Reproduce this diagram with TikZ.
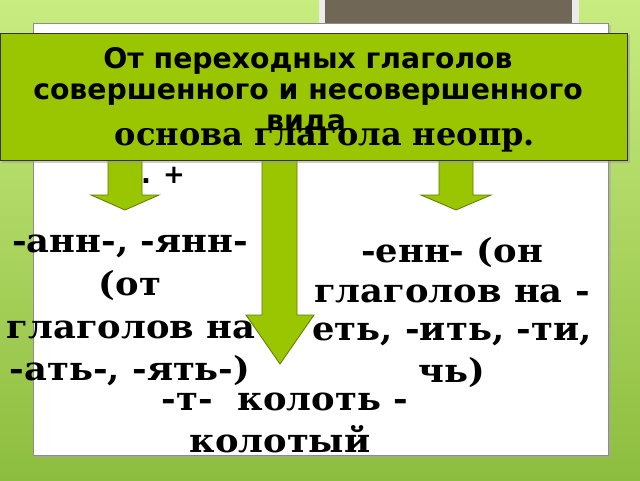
\documentclass[tikz,border=0pt]{standalone}
\usepackage{fontspec}
\newfontfamily\hsans{DejaVu Sans}
\newfontfamily\hserif{DejaVu Serif}
\newfontfamily\hserifwide[FakeStretch=1.07]{DejaVu Serif}
\definecolor{bgtop}{HTML}{C8EC80}
\definecolor{bgbot}{HTML}{8DBD3E}
\definecolor{lime}{HTML}{99C600}
\definecolor{limeedge}{HTML}{5E7A00}
\definecolor{greybox}{HTML}{716757}
\tikzset{
  arrowshape/.style={fill=lime,draw=limeedge,line width=0.8pt},
  bodytxt/.style={font=\hserifwide\bfseries\fontsize{33}{33}\selectfont,anchor=base,inner sep=0pt},
  titletxt/.style={font=\hsans\bfseries\fontsize{28.3}{28.3}\selectfont,anchor=base,inner sep=0pt},
}
\begin{document}
\begin{tikzpicture}[x=1pt,y=-1pt]
\useasboundingbox (0,0) rectangle (640,480);
% background
\shade[top color=bgtop,bottom color=bgbot] (0,0) rectangle (640,480);
% grey box
\fill[white!92!black] (319,-5) rectangle (579,60);
\fill[greybox] (325,-5) rectangle (572,60);
% white panel with shadow
\fill[black!35,opacity=0.5] (35,25) rectangle (611,458);
\draw[fill=white,draw=black!45,line width=0.6pt] (33,23) rectangle (608,455);
% hidden text fragment
\node[font=\hsans\bfseries\fontsize{26}{26}\selectfont,anchor=base west,inner sep=0pt] (frag) at (141,183) {. +};
% side arrows
\draw[arrowshape] (108,150) -- (142,150) -- (142,195) -- (159,195) -- (125,210) -- (91,195) -- (108,195) -- cycle;
\draw[arrowshape] (439,150) -- (473,150) -- (473,195) -- (491,195) -- (456,210) -- (421,195) -- (439,195) -- cycle;
% left block
\node[bodytxt] (l1) at (130,252) {-анн-, -янн-};
\node[bodytxt] (l2) at (130,295) {(от};
\node[bodytxt] (l3) at (131,338) {глаголов на};
\node[bodytxt] (l4) at (130,380) {-ать-, -ять-)};
% right block
\node[bodytxt] (r1) at (452,262) {-енн- (он};
\node[bodytxt] (r2) at (452,302) {глаголов на -};
\node[bodytxt] (r3) at (452,340) {еть, -ить, -ти,};
\node[bodytxt] (r4) at (452,382) {чь)};
% bottom
\node[bodytxt] (b1) at (285,410) {-т-\ \ колоть -};
\node[bodytxt] (b2) at (280,452) {колотый};
% middle arrow (over the texts)
\draw[arrowshape] (262,120) -- (297,120) -- (297,315) -- (314,315) -- (280,364) -- (246,315) -- (262,315) -- cycle;
% title box
\fill[black!40,opacity=0.5] (2,35) rectangle (630,163);
\draw[fill=lime,draw=black!80,line width=0.7pt] (0,33) rectangle (627,160);
\node[titletxt] (t1) at (308,68) {От переходных глаголов};
\node[titletxt] (t2) at (308,99) {совершенного и несовершенного};
\node[font=\hserif\bfseries\fontsize{32}{32}\selectfont,anchor=base,inner sep=0pt] (osn) at (325,145) {основа глагола неопр.};
\node[titletxt] (t3) at (306,130) {вида};
\end{tikzpicture}
\end{document}
